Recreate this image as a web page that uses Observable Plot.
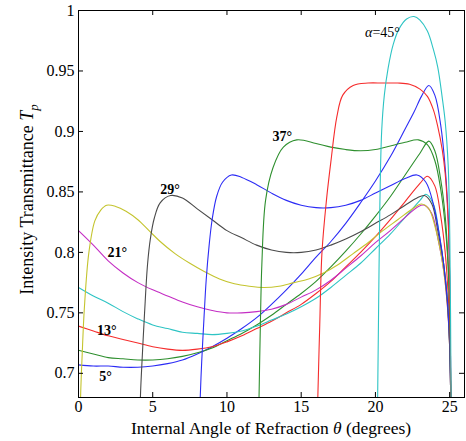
<!DOCTYPE html>
<html><head><meta charset="utf-8">
<script src="https://cdn.jsdelivr.net/npm/d3@7"></script>
<script src="https://cdn.jsdelivr.net/npm/@observablehq/plot@0.6"></script>
<style>body{margin:0;background:#fff} #chart svg{display:block}</style>
</head><body><div id="chart"></div>
<script>
// apex angles (series) and [theta, T] samples
const alphas = [5, 9, 13, 17, 21, 25, 29, 33, 37, 41, 45];

const t05 = [[0,0.707],[1,0.706],[2,0.706],[3,0.705],[4,0.705],[5,0.706],[6,0.708],[7,0.711],[8,0.716],[9,0.722],[10,0.729],[11,0.737],[12,0.746],[13,0.757],[14,0.769],[15,0.782],[16,0.796],[17,0.809],[18,0.824],[19,0.841],[20,0.859],[21,0.879],[22,0.902],[22.6,0.916],[23.1,0.929],[23.6,0.938],[24.0,0.930],[24.4,0.905],[24.7,0.870],[24.9,0.830],[25.0,0.780],[25.06,0.710],[25.12,0.60]];
const t09 = [[0,0.719],[1,0.716],[2,0.713],[3,0.712],[4,0.711],[5,0.711],[6,0.712],[7,0.714],[8,0.717],[9,0.721],[10,0.727],[11,0.733],[12,0.740],[13,0.748],[14,0.757],[15,0.766],[16,0.776],[17,0.788],[18,0.801],[19,0.815],[20,0.830],[21,0.846],[22,0.864],[23,0.882],[23.6,0.892],[24.0,0.884],[24.4,0.860],[24.7,0.830],[24.9,0.790],[25.0,0.750],[25.06,0.700],[25.12,0.60]];
const t13 = [[0,0.739],[1,0.735],[2,0.731],[3,0.728],[4,0.725],[5,0.722],[6,0.720],[7,0.719],[8,0.720],[9,0.722],[10,0.726],[11,0.731],[12,0.737],[13,0.743],[14,0.750],[15,0.757],[16,0.766],[17,0.776],[18,0.788],[19,0.800],[20,0.813],[21,0.827],[22,0.842],[23,0.857],[23.5,0.863],[24.0,0.855],[24.4,0.830],[24.7,0.800],[24.9,0.765],[25.0,0.735],[25.06,0.690],[25.12,0.60]];
const t17 = [[0,0.771],[1,0.764],[2,0.758],[3,0.751],[4,0.745],[5,0.740],[6,0.737],[7,0.734],[8,0.733],[9,0.732],[10,0.733],[11,0.735],[12,0.739],[13,0.744],[14,0.749],[15,0.755],[16,0.762],[17,0.771],[18,0.781],[19,0.791],[20,0.803],[21,0.815],[22,0.829],[23,0.843],[23.4,0.848],[23.9,0.840],[24.3,0.815],[24.6,0.790],[24.85,0.760],[25.0,0.725],[25.06,0.690],[25.12,0.60]];
const t21 = [[0,0.818],[1,0.806],[2,0.793],[3,0.783],[4,0.775],[5,0.769],[6,0.764],[7,0.759],[8,0.755],[9,0.752],[10,0.750],[11,0.750],[12,0.751],[13,0.753],[14,0.757],[15,0.763],[16,0.769],[17,0.777],[18,0.787],[19,0.797],[20,0.808],[21,0.818],[22,0.829],[22.9,0.838],[23.3,0.839],[23.8,0.832],[24.2,0.812],[24.6,0.785],[24.85,0.755],[25.0,0.722],[25.06,0.690],[25.12,0.60]];
const t25 = [[0.1,0.64],[0.14,0.68],[0.25,0.716],[0.4,0.755],[0.7,0.800],[1.1,0.826],[1.5,0.835],[1.9,0.839],[2.5,0.838],[3.2,0.834],[4,0.827],[4.75,0.818],[5.5,0.809],[6.5,0.799],[7.5,0.791],[8.5,0.784],[9.5,0.778],[10.5,0.774],[11.5,0.772],[12.5,0.771],[13.5,0.772],[14.5,0.775],[15.5,0.778],[16.5,0.783],[17.5,0.790],[18.5,0.799],[19.5,0.808],[20.5,0.818],[21.5,0.827],[22.5,0.836],[23.1,0.840],[23.6,0.836],[24.0,0.822],[24.4,0.800],[24.7,0.775],[24.9,0.748],[25.0,0.722],[25.06,0.690],[25.12,0.60]];
const t29 = [[4.12,0.64],[4.17,0.68],[4.3,0.715],[4.45,0.75],[4.65,0.79],[4.85,0.812],[5.1,0.828],[5.5,0.841],[6.2,0.847],[7,0.845],[8,0.836],[9,0.827],[10,0.818],[11,0.812],[12,0.806],[13,0.802],[14,0.800],[15,0.800],[16,0.802],[17,0.806],[18,0.811],[19,0.817],[20,0.824],[21,0.831],[22,0.839],[22.8,0.845],[23.3,0.847],[23.8,0.840],[24.2,0.818],[24.6,0.790],[24.85,0.758],[25.0,0.722],[25.06,0.690],[25.12,0.60]];
const t33 = [[8.12,0.64],[8.2,0.68],[8.3,0.71],[8.45,0.745],[8.6,0.777],[8.8,0.806],[9.0,0.827],[9.3,0.846],[9.7,0.858],[10.3,0.864],[11,0.862],[12,0.856],[13,0.849],[14,0.843],[15,0.839],[16,0.837],[17,0.837],[18,0.839],[19,0.843],[20,0.849],[21,0.855],[22,0.861],[22.8,0.864],[23.4,0.858],[23.9,0.840],[24.3,0.815],[24.6,0.790],[24.85,0.760],[25.0,0.725],[25.06,0.690],[25.12,0.60]];
const t37 = [[12.1,0.64],[12.16,0.68],[12.25,0.74],[12.35,0.79],[12.6,0.843],[13.1,0.870],[13.8,0.887],[14.7,0.893],[16,0.890],[17,0.887],[18,0.885],[19,0.884],[20,0.885],[21,0.888],[22,0.891],[22.9,0.893],[23.5,0.889],[24.0,0.876],[24.4,0.852],[24.7,0.822],[24.9,0.788],[25.0,0.750],[25.06,0.700],[25.12,0.60]];
const t41 = [[16.05,0.64],[16.12,0.68],[16.25,0.74],[16.4,0.80],[16.7,0.843],[17.0,0.875],[17.4,0.912],[17.8,0.930],[18.5,0.938],[19.5,0.940],[20.5,0.940],[21.5,0.940],[22.3,0.939],[23,0.935],[23.5,0.929],[23.9,0.918],[24.2,0.904],[24.5,0.885],[24.7,0.865],[24.9,0.825],[25.0,0.780],[25.06,0.710],[25.12,0.60]];
const t45 = [[20.1,0.64],[20.15,0.68],[20.22,0.76],[20.3,0.84],[20.42,0.90],[20.6,0.93],[20.85,0.952],[21.2,0.972],[21.6,0.985],[22.1,0.993],[22.6,0.995],[23.0,0.992],[23.5,0.983],[23.9,0.968],[24.2,0.953],[24.5,0.928],[24.7,0.908],[24.9,0.872],[25.0,0.820],[25.06,0.750],[25.12,0.60]];

const curves = [t05, t09, t13, t17, t21, t25, t29, t33, t37, t41, t45];

const xTicks = [0, 5, 10, 15, 20, 25];
const yTicks = [0.7, 0.75, 0.8, 0.85, 0.9, 0.95, 1];

const labelText  = ["5°", "13°", "21°", "29°", "37°"];
const labelTheta = [1.82, 1.9, 2.61, 6.17, 13.72];
const labelT     = [0.6975, 0.7355, 0.800, 0.852, 0.896];
const alphaSym = "α", alphaRest = "=45°", alphaTheta = 19.8, alphaT = 0.9815;

const palette = ["#2c2cf5", "#2e8f2e", "#f52c2c", "#2ec4c4", "#c42ec4", "#c4c42e", "#4a4a4a"];

const rows = curves.flatMap((c, i) => c.map(([theta, T]) => ({alpha: alphas[i], theta, T})));

const W = 466, H = 441, mL = 78, mR = 2, mT = 10, mB = 44, tickLen = 5;
const innerW = W - mL - mR, innerH = H - mT - mB;
const serif = "'Liberation Serif', 'Times New Roman', serif";

const svg = Plot.plot({
  width: W, height: H,
  marginLeft: mL, marginRight: mR, marginTop: mT, marginBottom: mB,
  x: {domain: [0, 26]},
  y: {domain: [0.68, 1]},
  color: {type: "ordinal", domain: alphas, range: alphas.map((_, i) => palette[i % palette.length])},
  style: {fontFamily: serif, fontSize: "16px", background: "white", color: "black"},
  marks: [
    Plot.line(rows, {x: "theta", y: "T", z: "alpha", stroke: "alpha", strokeWidth: 1.1, curve: "catmull-rom", clip: true}),
    Plot.frame({stroke: "black", strokeWidth: 1}),
    Plot.tickX(xTicks, {x: d => d, insetTop: innerH - tickLen, stroke: "black"}),
    Plot.tickX(xTicks, {x: d => d, insetBottom: innerH - tickLen, stroke: "black"}),
    Plot.tickY(yTicks, {y: d => d, insetRight: innerW - tickLen, stroke: "black"}),
    Plot.tickY(yTicks, {y: d => d, insetLeft: innerW - tickLen, stroke: "black"}),
    Plot.axisX({ticks: xTicks, tickSize: 0, tickPadding: 3, label: null, tickFormat: d => String(d)}),
    Plot.axisY({ticks: yTicks, tickSize: 0, tickPadding: 4, label: null, tickFormat: d => String(d)}),
    Plot.text(labelText.map((t, i) => ({t, x: labelTheta[i], y: labelT[i]})),
      {x: "x", y: "y", text: "t", fontWeight: "bold", fontSize: 14, fill: "black"}),
    Plot.text([{x: alphaTheta, y: alphaT}], {x: "x", y: "y", text: () => alphaSym, textAnchor: "end", fontStyle: "italic", fontSize: 14, fill: "black"}),
    Plot.text([{x: alphaTheta, y: alphaT}], {x: "x", y: "y", text: () => alphaRest, textAnchor: "start", fontSize: 14, fill: "black"})
  ]
});

const s = d3.select(svg);
// x axis title
const xt = s.append("text")
  .attr("x", mL + innerW / 2).attr("y", 434)
  .attr("text-anchor", "middle").attr("font-size", 17.5).attr("font-family", serif).attr("fill", "black");
xt.append("tspan").text("Internal Angle of Refraction ");
xt.append("tspan").attr("font-style", "italic").text("θ");
xt.append("tspan").text(" (degrees)");
// y axis title
const yt = s.append("text")
  .attr("transform", `translate(33,${mT + innerH / 2 - 4}) rotate(-90)`)
  .attr("text-anchor", "middle").attr("font-size", 18).attr("font-family", serif).attr("fill", "black");
yt.append("tspan").text("Intensity Transmittance ");
yt.append("tspan").attr("font-style", "italic").text("T");
yt.append("tspan").attr("font-style", "italic").attr("font-size", 13).attr("dy", 5).text("p");

document.getElementById("chart").appendChild(svg);
</script>
</body></html>
